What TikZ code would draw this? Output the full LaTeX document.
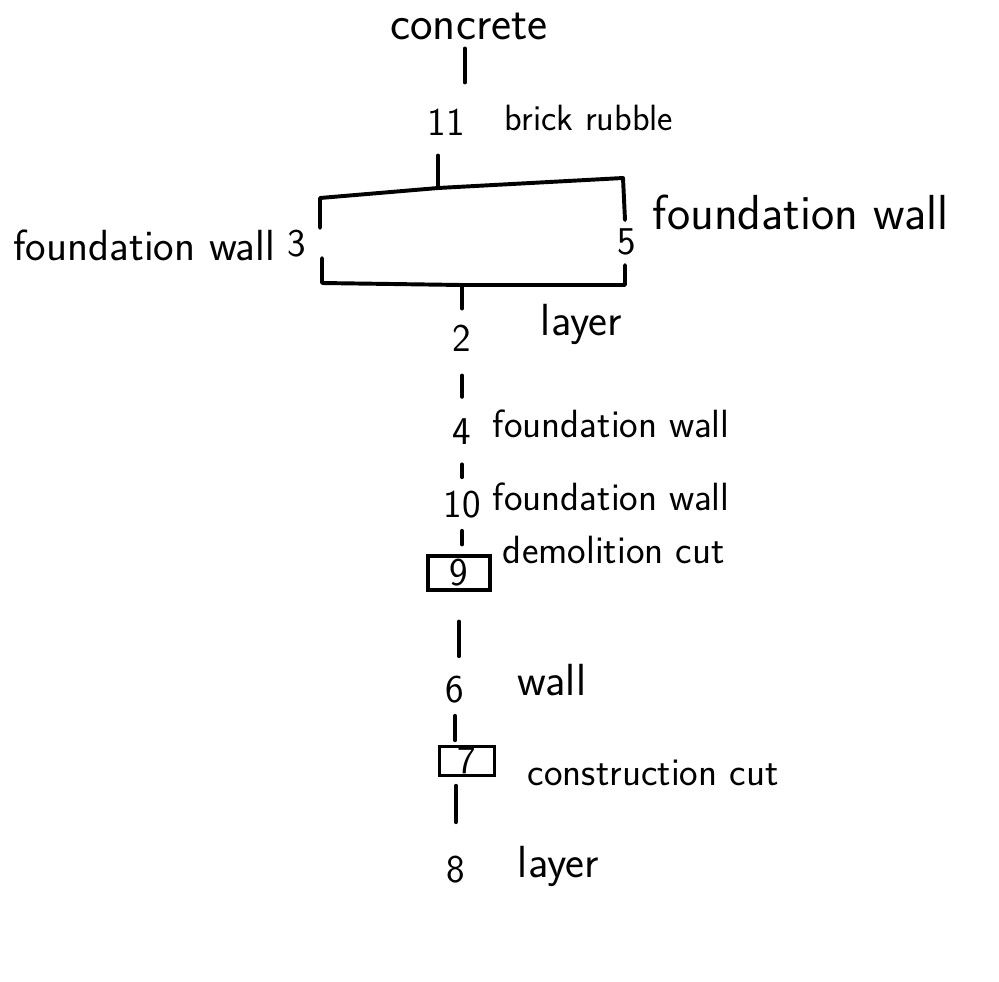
\documentclass[tikz,border=0pt]{standalone}
\usepackage{tikz}

\begin{document}
\begin{tikzpicture}[x=0.025cm, y=-0.025cm, font=\fontsize{28}{32}\selectfont\sffamily,
		unit/.style={inner sep=0pt},
		cutbox/.style={draw, line width=2.2pt, inner sep=0pt, minimum width=1.55cm, minimum height=0.85cm},
		link/.style={line width=2.8pt, line cap=round}]
			% Fix the page to the reference size
			\useasboundingbox (0,0) rectangle (999,981);
			
			% Units of the sequence
			\node[unit, font=\fontsize{34}{38}\selectfont\sffamily] (top) at (469,26) {concrete};
			\node[unit] (u11) at (446,122) {11};
			\node[unit] (u3) at (297,244) {3};
			\node[unit] (u5) at (627,242) {5};
			\node[unit] (u2) at (462,338) {2};
			\node[unit] (u4) at (462,432) {4};
			\node[unit] (u10) at (462,505) {10};
			\node[cutbox] (u9) at (459,573) {9};
			\node[unit] (u6) at (455,690) {6};
			\node[cutbox, minimum width=1.38cm, minimum height=0.72cm] (u7) at (467,761) {7};
			\node[unit] (u8) at (456,870) {8};
			
			% Descriptions
			\node[anchor=west, font=\fontsize{26}{30}\selectfont\sffamily] (d11) at (500,118) {brick rubble};
			\node[anchor=east, font=\fontsize{31}{34}\selectfont\sffamily] (d3) at (280,245) {foundation wall};
			\node[anchor=west, font=\fontsize{35}{38}\selectfont\sffamily] (d5) at (648,212) {foundation wall};
			\node[anchor=west, font=\fontsize{32}{36}\selectfont\sffamily] (d2) at (536,324) {layer};
			\node[anchor=west] (d4) at (488,424) {foundation wall};
			\node[anchor=west] (d10) at (488,497) {foundation wall};
			\node[anchor=west] (d9) at (498,550) {demolition cut};
			\node[anchor=west, font=\fontsize{32}{36}\selectfont\sffamily] (d6) at (513,680) {wall};
			\node[anchor=west] (d7) at (523,773) {construction cut};
			\node[anchor=west, font=\fontsize{32}{36}\selectfont\sffamily] (d8) at (513,866) {layer};
			
			% Bar above 3 and 5
			\coordinate (tm) at (438,188);
			\coordinate (tl) at (320,198);
			\coordinate (tr) at (623,178);
			\coordinate (tlb) at (320,228);
			\coordinate (trb) at (625,220);
			% Bar below 3 and 5
			\coordinate (bm) at (462,285);
			\coordinate (bl) at (322,283);
			\coordinate (br) at (625,285);
			\coordinate (blt) at (322,258);
			\coordinate (brt) at (625,265);
			
			% Draw the links
			\draw[link, shorten <=0.22cm, shorten >=0.65cm] (top.south -| u11.north east) -- (u11.north east);
			\draw[link, shorten <=0.5cm] (tm |- u11.south) -- (tm);
			\draw[link, line join=round] (tlb) -- (tl) -- (tm) -- (tr) -- (trb);
			\draw[link, line join=round] (blt) -- (bl) -- (bm) -- (br) -- (brt);
			\draw[link, shorten >=0.4cm] (bm) -- (bm |- u2.north);
			\draw[link, shorten <=0.6cm, shorten >=0.55cm] (u2.south) -- (u2.south |- u4.north);
			\draw[link, shorten <=0.48cm, shorten >=0.35cm] (u4.south) -- (u4.south |- u10.north);
			\draw[link, shorten <=0.3cm, shorten >=0.25cm] (u10.south) -- (u10.south |- u9.north);
			\draw[link, shorten <=0.75cm, shorten >=0.5cm] (u9.south) -- (u9.south |- u6.north);
			\draw[link, shorten <=0.3cm, shorten >=0.12cm] (u6.south) -- (u6.south |- u7.north);
			\draw[link, shorten <=0.22cm, shorten >=0.85cm] (u7.south -| u8) -- (u8.north);
		\end{tikzpicture}
\end{document}
